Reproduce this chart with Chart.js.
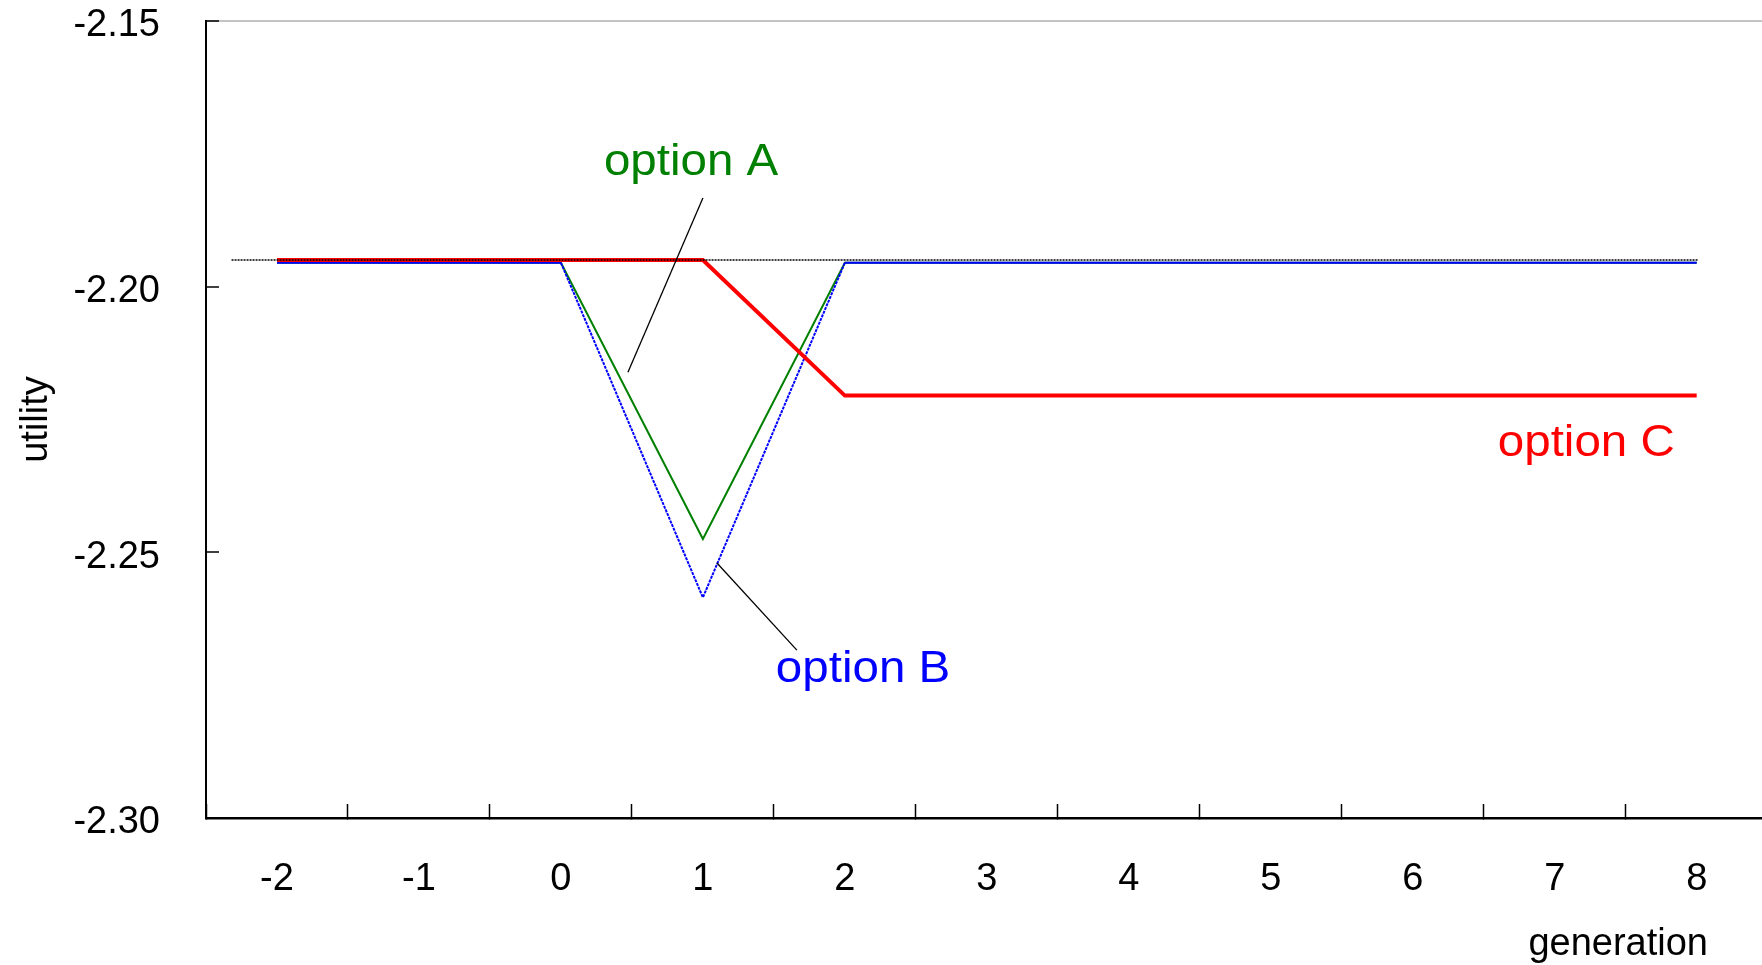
<!DOCTYPE html>
<html>
<head>
<meta charset="utf-8">
<script src="https://cdn.jsdelivr.net/npm/chart.js@4/dist/chart.umd.min.js"></script>
<style>
html,body{margin:0;padding:0;background:#fff;overflow:hidden}
#wrap{width:1762px;height:965px;position:relative}
</style>
</head>
<body>
<div id="wrap"><canvas id="c"></canvas></div>
<script>
// ---- data ----
const generations = [-2, -1, 0, 1, 2, 3, 4, 5, 6, 7, 8];
const optionA = [-2.1955, -2.1955, -2.1955, -2.2475, -2.1955, -2.1955, -2.1955, -2.1955, -2.1955, -2.1955, -2.1955];
const optionB = [-2.1955, -2.1955, -2.1955, -2.2585, -2.1955, -2.1955, -2.1955, -2.1955, -2.1955, -2.1955, -2.1955];
const optionC = [-2.195, -2.195, -2.195, -2.195, -2.2205, -2.2205, -2.2205, -2.2205, -2.2205, -2.2205, -2.2205];
const referenceX = [-2.32, 8.01];
const referenceY = [-2.195, -2.195];
const xTickValues = [-2, -1, 0, 1, 2, 3, 4, 5, 6, 7, 8];
const yTickValues = [-2.30, -2.25, -2.20, -2.15];
const labelTexts = ['option A', 'option B', 'option C'];
const xTitle = 'generation';
const yTitle = 'utility';

// ---- annotation placement (data coordinates) ----
const labelPos = [
  {x: 0.303, y: -2.1790, color: '#008000'},
  {x: 1.514, y: -2.2744, color: '#0000ff'},
  {x: 6.599, y: -2.2319, color: '#ff0000'}
];
const leaders = [
  {x1: 1.0, y1: -2.1833, x2: 0.472, y2: -2.2161},
  {x1: 1.099, y1: -2.2520, x2: 1.662, y2: -2.2684}
];

const FAMILY = '"Liberation Sans", Arial, Helvetica, sans-serif';
Chart.defaults.font.family = FAMILY;

const pts = (xs, ys) => xs.map((v, i) => ({x: v, y: ys[i]}));

const annotate = {
  id: 'annotate',
  afterDatasetsDraw(chart) {
    const {ctx, scales: {x, y}, chartArea} = chart;
    ctx.save();
    ctx.strokeStyle = '#000';
    ctx.lineWidth = 1.3;
    leaders.forEach(l => {
      ctx.beginPath();
      ctx.moveTo(x.getPixelForValue(l.x1), y.getPixelForValue(l.y1));
      ctx.lineTo(x.getPixelForValue(l.x2), y.getPixelForValue(l.y2));
      ctx.stroke();
    });
    ctx.font = '44px ' + FAMILY;
    ctx.textAlign = 'left';
    ctx.textBaseline = 'alphabetic';
    labelPos.forEach((p, i) => {
      ctx.save();
      ctx.translate(x.getPixelForValue(p.x), y.getPixelForValue(p.y));
      ctx.scale(1.08, 1);
      ctx.fillStyle = p.color;
      ctx.fillText(labelTexts[i], 0, 0);
      ctx.restore();
    });
    ctx.font = '38px ' + FAMILY;
    ctx.fillStyle = '#000';
    ctx.textAlign = 'right';
    ctx.fillText(xTitle, chartArea.right - 54, chartArea.bottom + 137);
    ctx.restore();
  }
};

const zeroPad = s => { s.paddingTop = 0; s.paddingBottom = 0; s.paddingLeft = 0; s.paddingRight = 0; };
const slopeDash = c => (c.p0.parsed.y === c.p1.parsed.y ? [] : [3, 1]);

new Chart(document.getElementById('c'), {
  type: 'line',
  data: {
    datasets: [
      {label: 'reference', data: pts(referenceX, referenceY), borderColor: '#000', borderWidth: 1.5, borderDash: [2, 1], pointRadius: 0, order: 0},
      {label: labelTexts[2], data: pts(generations, optionC), borderColor: '#ff0000', borderWidth: 4, pointRadius: 0, order: 1},
      {label: labelTexts[1], data: pts(generations, optionB), borderColor: '#0000ff', borderWidth: 2, pointRadius: 0, order: 2, segment: {borderDash: slopeDash}},
      {label: labelTexts[0], data: pts(generations, optionA), borderColor: '#008000', borderWidth: 2, pointRadius: 0, order: 3}
    ]
  },
  options: {
    responsive: true,
    maintainAspectRatio: false,
    animation: false,
    events: [],
    layout: {padding: {top: 21, left: 0, right: 0, bottom: 0}},
    plugins: {legend: {display: false}, tooltip: {enabled: false}},
    elements: {line: {tension: 0, borderJoinStyle: 'miter'}},
    scales: {
      x: {
        type: 'linear',
        min: -2.5,
        max: 8.46,
        afterBuildTicks: s => { s.ticks = xTickValues.map(v => ({value: v})); },
        afterFit: s => { s.height = 147; zeroPad(s); },
        grid: {offset: true, drawOnChartArea: false, tickLength: -14, tickWidth: 1.5, tickColor: '#000', color: '#000'},
        border: {display: true, color: '#000', width: 2.5},
        ticks: {padding: 53, autoSkip: false, maxRotation: 0, color: '#000', font: {size: 38, family: FAMILY}, callback: v => String(v)}
      },
      y: {
        type: 'linear',
        min: -2.30,
        max: -2.15,
        afterBuildTicks: s => { s.ticks = yTickValues.map(v => ({value: v})); },
        afterFit: s => { s.width = 206; zeroPad(s); },
        grid: {
          drawOnChartArea: true,
          lineWidth: 2,
          color: c => (c.index === yTickValues.length - 1 ? '#c4c4c4' : 'rgba(0,0,0,0)'),
          tickLength: -13,
          tickWidth: 1.5,
          tickColor: '#000'
        },
        border: {display: true, color: '#000', width: 2},
        ticks: {padding: 59, labelOffset: 5, autoSkip: false, color: '#000', font: {size: 38, family: FAMILY}, callback: v => Number(v).toFixed(2)},
        title: {display: true, text: yTitle, color: '#000', font: {size: 38, family: FAMILY}, padding: {top: 14, bottom: 0}}
      }
    }
  },
  plugins: [annotate]
});
</script>
</body>
</html>
